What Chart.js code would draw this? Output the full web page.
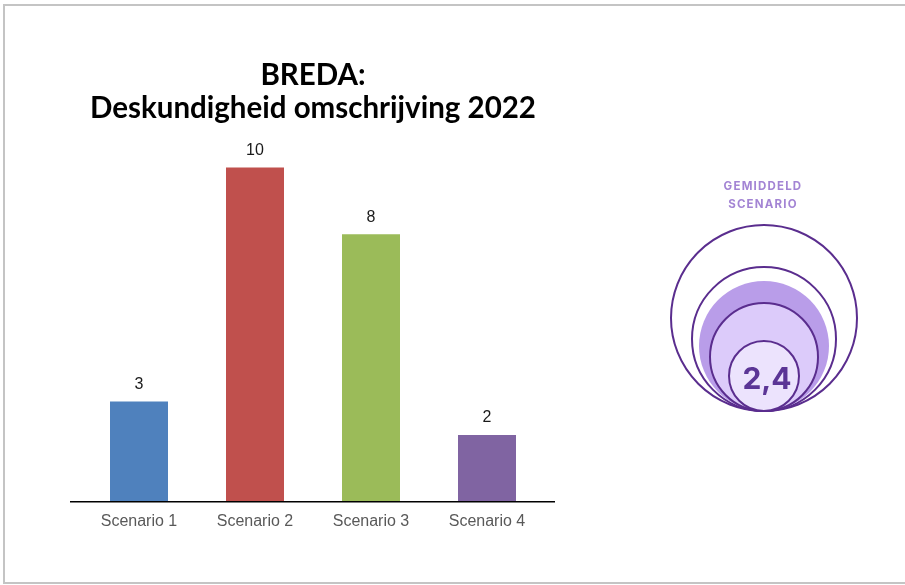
<!DOCTYPE html>
<html>
<head>
<meta charset="utf-8">
<script src="https://cdn.jsdelivr.net/npm/chart.js@4"></script>
<style>
  html, body { margin: 0; padding: 0; background: #fff; }
  #wrap { position: relative; width: 905px; height: 585px; overflow: hidden; }
  #frame { position: absolute; left: 3px; top: 4px; width: 910px; height: 580px; border: 2px solid #c4c4c4; box-sizing: border-box; }
  #barChart { position: absolute; left: 0; top: 0; }
  #badge { position: absolute; left: 0; top: 0; }
</style>
</head>
<body>
<div id="wrap">
  <div id="frame"></div>
  <canvas id="barChart" width="620" height="585" style="width:620px;height:585px"></canvas>
  <svg id="badge" width="905" height="585"></svg>
</div>
<script>
// chart data
const titleLines = ['BREDA:', 'Deskundigheid omschrijving 2022'];
const scenarios = ['Scenario 1', 'Scenario 2', 'Scenario 3', 'Scenario 4'];
const scores = [3, 10, 8, 2];
const barColors = ['#4f81bd', '#c0504d', '#9bbb59', '#8064a2'];
const averageLabel = ['GEMIDDELD', 'SCENARIO'];
const averageValue = '2,4';

// value labels above each bar + the long baseline
const barExtras = {
    id: 'barExtras',
    afterDatasetsDraw(chart) {
        const ctx = chart.ctx;
        const area = chart.chartArea;
        ctx.save();
        ctx.strokeStyle = '#000';
        ctx.lineWidth = 1.5;
        ctx.beginPath();
        ctx.moveTo(area.left - 11, area.bottom);
        ctx.lineTo(area.right + 10, area.bottom);
        ctx.stroke();

        ctx.font = '16px "Liberation Sans", Arial, sans-serif';
        ctx.fillStyle = '#1a1a1a';
        ctx.textAlign = 'center';
        ctx.textBaseline = 'bottom';
        chart.getDatasetMeta(0).data.forEach((bar, i) => {
            ctx.fillText(String(scores[i]), bar.x, bar.y - 9);
        });
        ctx.restore();
    }
};

new Chart(document.getElementById('barChart'), {
    type: 'bar',
    data: {
        labels: scenarios,
        datasets: [{
            data: scores,
            backgroundColor: barColors,
            borderWidth: 0,
            categoryPercentage: 1,
            barPercentage: 0.5
        }]
    },
    options: {
        responsive: false,
        animation: false,
        layout: { padding: { left: 81, right: 75, top: 59, bottom: 44 } },
        plugins: {
            legend: { display: false },
            tooltip: { enabled: false },
            title: {
                display: true,
                text: titleLines,
                color: '#000',
                font: { family: 'Lato, "Open Sans", sans-serif', size: 29.5, weight: 'bold', lineHeight: 1.12 },
                padding: { top: 0, bottom: 9 }
            }
        },
        scales: {
            y: { display: false, min: 0, max: 11 },
            x: {
                grid: { display: false, drawTicks: false },
                border: { display: false },
                ticks: {
                    padding: 10,
                    color: '#595959',
                    font: { family: '"Liberation Sans", Arial, sans-serif', size: 16 }
                }
            }
        }
    },
    plugins: [barExtras]
});

// average badge: nested circles touching at the bottom
const svgNS = 'http://www.w3.org/2000/svg';
const svg = document.getElementById('badge');
const cx = 764, bottom = 411;
const rings = [
    { r: 93, fill: 'none', stroke: true },
    { r: 72, fill: 'none', stroke: true },
    { r: 65, fill: '#b99de9', stroke: false },
    { r: 54, fill: '#dccbfa', stroke: true },
    { r: 35, fill: '#ece3fd', stroke: true }
];
rings.forEach(ring => {
    const c = document.createElementNS(svgNS, 'circle');
    c.setAttribute('cx', cx);
    c.setAttribute('cy', bottom - ring.r);
    c.setAttribute('r', ring.r);
    c.setAttribute('fill', ring.fill);
    if (ring.stroke) {
        c.setAttribute('stroke', '#5a2d8e');
        c.setAttribute('stroke-width', 2);
    }
    svg.appendChild(c);
});

function addText(str, x, y, size, color, spacing) {
    const t = document.createElementNS(svgNS, 'text');
    t.setAttribute('x', x);
    t.setAttribute('y', y);
    t.setAttribute('text-anchor', 'middle');
    t.setAttribute('dominant-baseline', 'central');
    t.setAttribute('fill', color);
    t.setAttribute('font-family', 'Inter, "Open Sans", sans-serif');
    t.setAttribute('font-weight', 'bold');
    t.setAttribute('font-size', size);
    if (spacing) t.setAttribute('letter-spacing', spacing);
    t.textContent = str;
    svg.appendChild(t);
}
addText(averageLabel[0], 763, 186, 11.5, '#a384d4', 1.2);
addText(averageLabel[1], 763, 204, 11.5, '#a384d4', 1.2);
addText(averageValue, 767, 378, 30, '#5b3596');
</script>
</body>
</html>
